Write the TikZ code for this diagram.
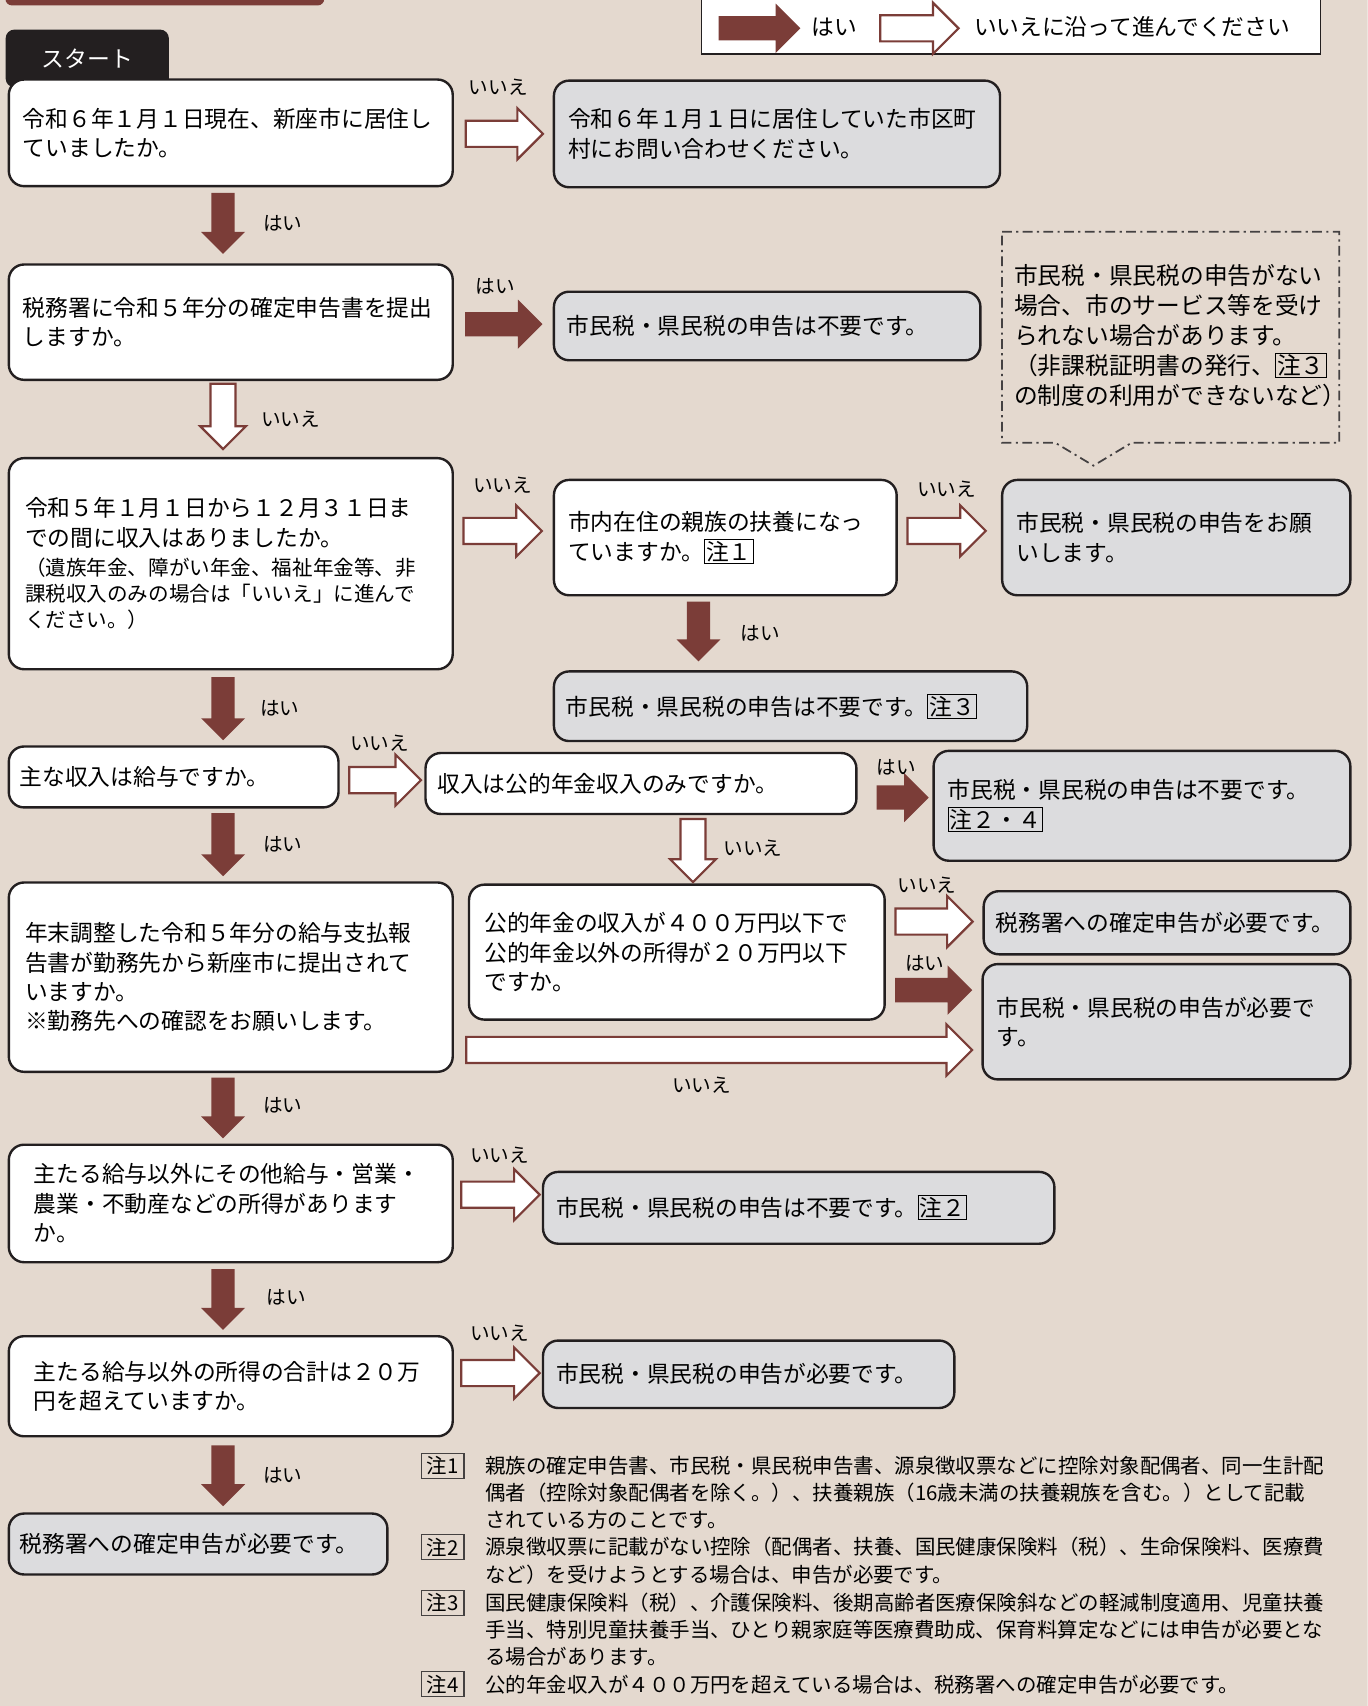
\documentclass[tikz,border=0pt]{standalone}
\usepackage{fontspec}
\setmainfont{Noto Sans CJK JP}
\usetikzlibrary{shapes.arrows,positioning}

\definecolor{bgbeige}{HTML}{E4D9CF}
\definecolor{boxgray}{HTML}{DCDCDE}
\definecolor{darkred}{HTML}{7B3D38}
\definecolor{inkblack}{HTML}{231F20}

\newcommand{\chu}[1]{{\setlength{\fboxsep}{1pt}\setlength{\fboxrule}{0.9pt}\fbox{#1}}}

\begin{document}
\begin{tikzpicture}[x=1pt,y=-1pt]

  \tikzstyle{qbox}=[draw=inkblack,line width=2.2pt,rounded corners=14pt,fill=white,anchor=north west,align=left,inner xsep=13pt,inner ysep=0pt,font=\fontsize{20.9}{27}\selectfont]
  \tikzstyle{abox}=[qbox,fill=boxgray]
  \tikzstyle{yesarr}=[single arrow,fill=darkred,inner sep=11pt,single arrow head extend=11.5pt,minimum height=71pt]
  \tikzstyle{noarr}=[yesarr,fill=white,draw=darkred,line width=2pt]
  \tikzstyle{yesdown}=[yesarr,shape border rotate=270,inner sep=10.5pt,single arrow head extend=9.5pt,minimum height=56pt]
  \tikzstyle{nodown}=[noarr,shape border rotate=270,inner sep=10.5pt,single arrow head extend=9.5pt,minimum height=58pt]
  \tikzstyle{lab}=[inner sep=0pt,font=\fontsize{18}{18}\selectfont]
  \tikzstyle{notelab}=[draw=inkblack!85,line width=1pt,inner sep=1.5pt,minimum width=39pt,minimum height=23pt,font=\fontsize{18.8}{18.8}\selectfont]
  \tikzstyle{notetext}=[anchor=west,align=left,inner sep=0pt,font=\fontsize{18.8}{25}\selectfont]

  % page
  \useasboundingbox (0,0) rectangle (1257,1568);
  \clip (0,0) rectangle (1257,1568);
  \fill[bgbeige] (0,0) rectangle (1257,1568);
  \fill[darkred,rounded corners=6pt] (5,-20) rectangle (298,5);

  % legend
  \node[draw=inkblack,line width=1.3pt,fill=white,anchor=north west,minimum width=569pt,minimum height=51pt,inner sep=0pt] (legend) at (644,-2) {};
  \node[yesarr,minimum height=75pt] (legyes) at (692.5,26) {};
  \node[lab,font=\fontsize{20.9}{20.9}\selectfont] (legyeslab) at (767,25) {はい};
  \node[noarr,minimum height=72pt] (legno) at (839,26) {};
  \node[lab,anchor=west,font=\fontsize{20.9}{20.9}\selectfont] (legnolab) at (895,25) {いいえに沿って進んでください};

  % nodes
  \node[fill=inkblack,rounded corners=8pt,minimum width=150pt,minimum height=53pt,anchor=north west,text=white,font=\fontsize{21}{21}\selectfont] (start) at (5,27) {スタート};

  \node[qbox,text width=382pt,minimum height=98pt] (q1) at (7,72) {令和６年１月１日現在、新座市に居住し\\ていましたか。};
  \node[abox,text width=384pt,minimum height=98pt] (a1) at (508,73) {令和６年１月１日に居住していた市区町\\村にお問い合わせください。};

  \node[qbox,text width=382pt,minimum height=106pt] (q2) at (7,242) {税務署に令和５年分の確定申告書を提出\\しますか。};
  \node[abox,text width=368pt,inner xsep=12pt,minimum height=63pt] (a2) at (508,267) {市民税・県民税の申告は不要です。};

  \node[qbox,inner xsep=15pt,text width=378pt,minimum height=194pt,font=\fontsize{20.9}{24}\selectfont] (q3) at (7,420) {令和５年１月１日から１２月３１日ま\\[3pt]での間に収入はありましたか。\\[3pt]\fontsize{18.9}{24}\selectfont （遺族年金、障がい年金、福祉年金等、非\\課税収入のみの場合は「いいえ」に進んで\\ください。）};
  \node[qbox,text width=289pt,minimum height=106pt] (q4) at (508,440) {市内在住の親族の扶養になっ\\ていますか。\chu{注１}};
  \node[abox,text width=294pt,minimum height=106pt] (a3) at (920,440) {市民税・県民税の申告をお願\\いします。};
  \node[abox,inner xsep=11pt,text width=413pt,minimum height=64pt] (a4) at (508,616) {市民税・県民税の申告は不要です。\chu{注３}};

  \node[qbox,inner xsep=10pt,text width=283pt,minimum height=56pt] (q5) at (7,685) {主な収入は給与ですか。};
  \node[qbox,inner xsep=11pt,text width=374pt,minimum height=56pt] (q6) at (390,691) {収入は公的年金収入のみですか。};
  \node[abox,text width=357pt,minimum height=101pt] (a5) at (857,689) {市民税・県民税の申告は不要です。\\\chu{注２・４}};

  \node[qbox,inner xsep=15pt,text width=378pt,minimum height=174pt] (q7) at (7,810) {年末調整した令和５年分の給与支払報\\告書が勤務先から新座市に提出されて\\いますか。\\※勤務先への確認をお願いします。};
  \node[qbox,inner xsep=14pt,text width=354pt,minimum height=124pt] (q8) at (430,812) {公的年金の収入が４００万円以下で\\公的年金以外の所得が２０万円以下\\ですか。};
  \node[abox,inner xsep=11pt,text width=315pt,minimum height=58pt] (a6) at (903,818) {税務署への確定申告が必要です。};
  \node[abox,text width=312pt,minimum height=106pt] (a7) at (902,885) {市民税・県民税の申告が必要で\\す。};

  \node[qbox,inner xsep=23pt,text width=362pt,minimum height=108pt] (q9) at (7,1051) {主たる給与以外にその他給与・営業・\\農業・不動産などの所得があります\\か。};
  \node[abox,inner xsep=12pt,text width=446pt,minimum height=66pt] (a8) at (498,1076) {市民税・県民税の申告は不要です。\chu{注２}};

  \node[qbox,inner xsep=23pt,text width=362pt,minimum height=92pt] (q10) at (7,1227) {主たる給与以外の所得の合計は２０万\\円を超えていますか。};
  \node[abox,inner xsep=12pt,text width=354pt,minimum height=62pt] (a9) at (498,1231) {市民税・県民税の申告が必要です。};

  \node[abox,inner xsep=10pt,text width=328pt,minimum height=56pt] (a10) at (7,1390) {税務署への確定申告が必要です。};

  % callout
  \draw[inkblack!85,line width=1.6pt,dash pattern=on 9pt off 4pt on 2pt off 4pt] (921,213) -- (1231,213) -- (1231,407) -- (1040,407) -- (1005,428) -- (970,407) -- (921,407) -- cycle;
  \node[anchor=west,align=left,inner sep=0pt,font=\fontsize{21.8}{27.7}\selectfont] (memo) at (932,308.5) {市民税・県民税の申告がない\\場合、市のサービス等を受け\\られない場合があります。\\（非課税証明書の発行、\chu{注３}\\の制度の利用ができないなど）};

  % pointers
  \node[noarr] (n1) at (457.5,123) {};
  \node[lab] (n1lab) at (458,80) {いいえ};
  \node[yesdown] (ya) at (205,200) {};
  \node[lab] (yalab) at (260,205) {はい};

  \node[yesarr] (y2) at (457.5,298) {};
  \node[lab] (y2lab) at (455,263) {はい};
  \node[nodown,minimum height=60pt] (nb) at (205,377) {};
  \node[lab] (nblab) at (267,385) {いいえ};

  \node[noarr,minimum height=72pt] (n3) at (456,488) {};
  \node[lab] (n3lab) at (462,446) {いいえ};
  \node[noarr,minimum height=72pt] (n4) at (864,488) {};
  \node[lab] (n4lab) at (870,450) {いいえ};
  \node[yesdown,minimum height=55pt] (yc) at (642,575) {};
  \node[lab] (yclab) at (699,582) {はい};

  \node[yesdown,minimum height=58pt] (yd) at (205,646) {};
  \node[lab] (ydlab) at (257,651) {はい};
  \node[noarr,minimum height=66pt] (n5) at (348,717) {};
  \node[lab] (n5lab) at (349,683) {いいえ};
  \node[yesarr,minimum height=48pt] (y6) at (824,733) {};
  \node[lab] (y6lab) at (824,705) {はい};
  \node[nodown] (ne) at (637,776) {};
  \node[lab] (nelab) at (692,780) {いいえ};
  \node[yesdown,minimum height=58pt] (yf) at (205,771) {};
  \node[lab] (yflab) at (260,776) {はい};

  \node[noarr] (n7) at (852.5,847) {};
  \node[lab] (n7lab) at (852,814) {いいえ};
  \node[yesarr] (y8) at (852.5,910) {};
  \node[lab] (y8lab) at (850,885) {はい};
  \node[noarr,minimum height=465pt] (n9) at (655,965) {};
  \node[lab] (n9lab) at (645,997) {いいえ};

  \node[yesdown] (yg) at (205,1013) {};
  \node[lab] (yglab) at (260,1016) {はい};
  \node[noarr,minimum height=72pt] (n10) at (454,1098) {};
  \node[lab] (n10lab) at (459,1062) {いいえ};
  \node[yesdown] (yh) at (205,1189) {};
  \node[lab] (yhlab) at (263,1192) {はい};
  \node[noarr,minimum height=72pt] (n11) at (454,1262) {};
  \node[lab] (n11lab) at (459,1225) {いいえ};
  \node[yesdown] (yi) at (205,1351) {};
  \node[lab] (yilab) at (260,1356) {はい};

  % notes
  \node[notelab] (c1) at (407,1347) {注1};
  \node[notetext] (t1) at (446,1372) {親族の確定申告書、市民税・県民税申告書、源泉徴収票などに控除対象配偶者、同一生計配\\偶者（控除対象配偶者を除く。）、扶養親族（16歳未満の扶養親族を含む。）として記載\\されている方のことです。};
  \node[notelab] (c2) at (407,1422) {注2};
  \node[notetext] (t2) at (446,1434.5) {源泉徴収票に記載がない控除（配偶者、扶養、国民健康保険料（税）、生命保険料、医療費\\など）を受けようとする場合は、申告が必要です。};
  \node[notelab] (c3) at (407,1473) {注3};
  \node[notetext] (t3) at (446,1498) {国民健康保険料（税）、介護保険料、後期高齢者医療保険斜などの軽減制度適用、児童扶養\\手当、特別児童扶養手当、ひとり親家庭等医療費助成、保育料算定などには申告が必要とな\\る場合があります。};
  \node[notelab] (c4) at (407,1548) {注4};
  \node[notetext] (t4) at (446,1548) {公的年金収入が４００万円を超えている場合は、税務署への確定申告が必要です。};

\end{tikzpicture}
\end{document}
